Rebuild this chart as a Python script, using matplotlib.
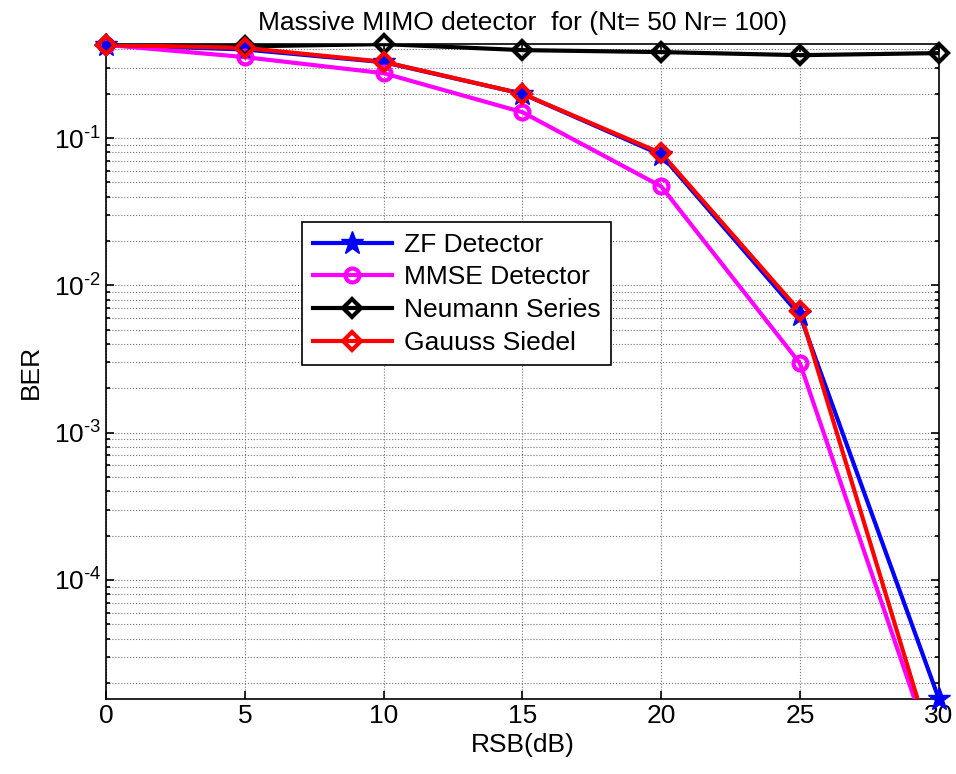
import numpy as np
import matplotlib
matplotlib.use("Agg")
import matplotlib.pyplot as plt
from matplotlib.ticker import FixedLocator, FixedFormatter, NullFormatter

plt.rcParams['font.family'] = ['Liberation Sans', 'DejaVu Sans']
plt.rcParams['mathtext.fontset'] = 'custom'
plt.rcParams['mathtext.rm'] = 'Liberation Sans'
plt.rcParams['mathtext.it'] = 'Liberation Sans'
plt.rcParams['axes.unicode_minus'] = False

snr = [0, 5, 10, 15, 20, 25, 30]
ber_zf = [0.43, 0.40, 0.328, 0.20, 0.077, 0.00625, 1.56e-5]
ber_mmse = [0.43, 0.355, 0.276, 0.15, 0.047, 0.00295, 5.1e-6]
ber_neumann = [0.43, 0.42, 0.435, 0.396, 0.384, 0.366, 0.378]
ber_gs = [0.43, 0.41, 0.33, 0.20, 0.079, 0.00666, 5.2e-6]
ytick_vals = [1e-4, 1e-3, 1e-2, 1e-1]
ytick_labels = [r'$\mathregular{10^{\text{-}4}}$', r'$\mathregular{10^{\text{-}3}}$',
                r'$\mathregular{10^{\text{-}2}}$', r'$\mathregular{10^{\text{-}1}}$']

ymin, ymax = 1.556e-5, 0.435

fig = plt.figure(figsize=(9.56, 7.74), dpi=100)
ax = fig.add_axes([0.111, 0.097, 0.871, 0.846])

lw = 3
series = [
    (ber_zf, 'blue', '*', dict(ms=17, mfc='blue', mew=1), 'ZF Detector'),
    (ber_mmse, 'magenta', 'o', dict(ms=10, mfc='none', mew=3), 'MMSE Detector'),
    (ber_neumann, 'black', 'D', dict(ms=9, mfc='none', mew=3), 'Neumann Series'),
    (ber_gs, 'red', 'D', dict(ms=9, mfc='none', mew=3), 'Gauuss Siedel'),
]
for ys, c, m, mk, lab in series:
    ax.semilogy(snr, ys, '-', color=c, lw=lw, zorder=3)
    # markers only for points inside the visible range, not clipped at the frame
    xs_in = [x for x, y in zip(snr, ys) if y >= ymin * 0.99]
    ys_in = [y for y in ys if y >= ymin * 0.99]
    ax.semilogy(xs_in, ys_in, ls='none', marker=m, color=c, mec=c, clip_on=False,
                zorder=4, **mk)
    ax.plot([], [], '-', marker=m, color=c, mec=c, lw=lw, label=lab, **mk)

ax.set_xlim(0, 30)
ax.set_ylim(ymin, ymax)
ax.set_xticks(snr)
ax.yaxis.set_major_locator(FixedLocator(ytick_vals))
ax.yaxis.set_major_formatter(FixedFormatter(ytick_labels))
ax.yaxis.set_minor_formatter(NullFormatter())

ax.grid(True, which='major', color='0.45', linestyle=':', linewidth=0.8)
ax.grid(True, which='minor', axis='y', color='0.45', linestyle=':', linewidth=0.8)
ax.tick_params(which='both', direction='in', top=True, right=True, labelsize=19, width=1.2)
ax.tick_params(which='major', length=6)
ax.tick_params(which='minor', length=3)
for s in ax.spines.values():
    s.set_linewidth(1.2)

ax.set_xlabel('RSB(dB)', fontsize=19, labelpad=4)
ax.set_ylabel('BER', fontsize=19, labelpad=8)
ax.set_title('Massive MIMO detector  for (Nt= 50 Nr= 100)', fontsize=19, pad=10)

leg = ax.legend(loc='upper left', bbox_to_anchor=(0.2353, 0.728), borderaxespad=0,
                fontsize=19, fancybox=False, edgecolor='black', framealpha=1,
                handlelength=3.0, handletextpad=0.45, borderpad=0.4, labelspacing=0.33)
leg.get_frame().set_linewidth(1.2)

fig.savefig('out.png', dpi=100)
